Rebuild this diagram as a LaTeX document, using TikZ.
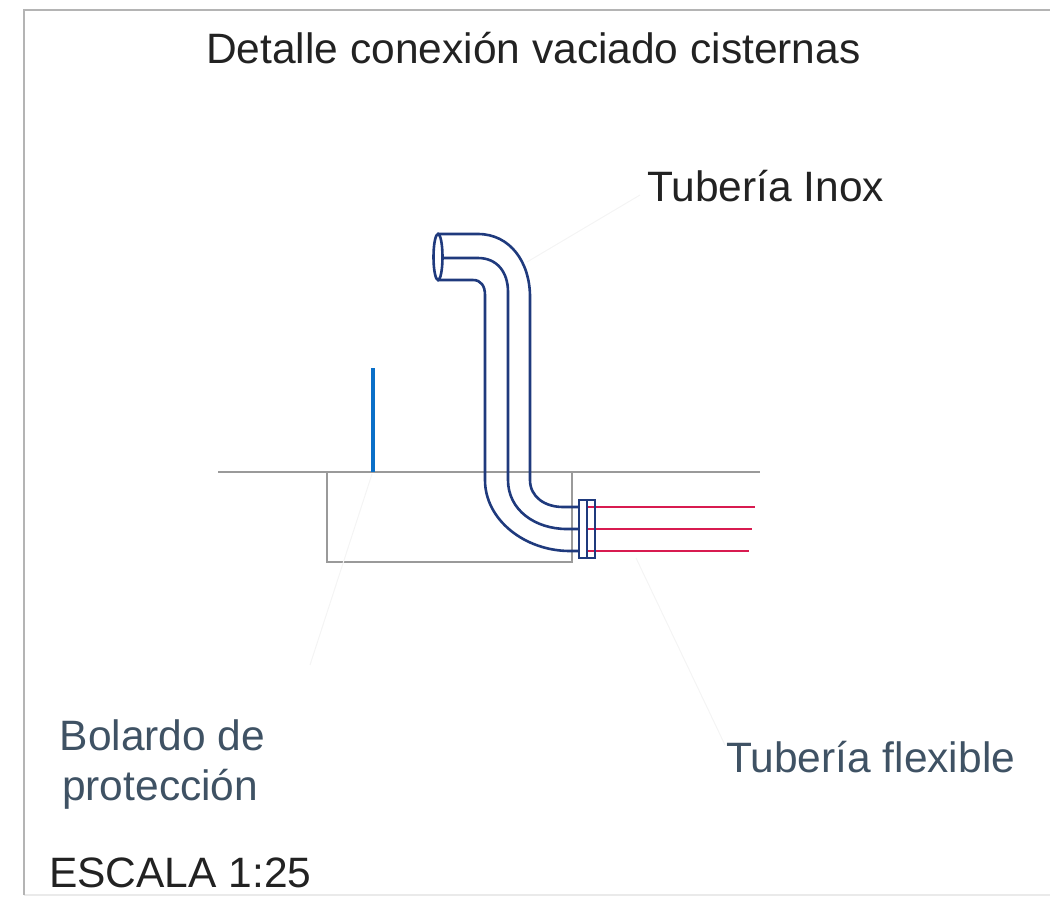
\documentclass[tikz,border=0pt]{standalone}
\usepackage{fontspec}
\setmainfont{Liberation Sans}
\definecolor{pipeblue}{HTML}{1F3A7D}
\definecolor{flexred}{HTML}{D81B50}
\definecolor{barblue}{HTML}{0A6FC8}
\definecolor{wallgray}{HTML}{9A9A9A}
\definecolor{slate}{HTML}{3F5264}
\definecolor{ink}{HTML}{222222}
\definecolor{faint}{HTML}{F4F4F4}
\definecolor{edgetop}{HTML}{B4B4B4}
\definecolor{edgelow}{HTML}{EAEAEA}
\tikzset{
  pipe/.style={draw=pipeblue,line width=2.6pt},
  flex/.style={draw=flexred,line width=2.6pt},
  wall/.style={draw=wallgray,line width=1.8pt},
  leader/.style={draw=faint,line width=1pt},
  lbl/.style={inner sep=0pt,anchor=base west,align=left,font=\fontsize{42.5}{42.5}\selectfont},
}
\begin{document}
\begin{tikzpicture}[x=1pt,y=-1pt]
\useasboundingbox (0,0) rectangle (1050,898);
% sheet border
\coordinate (bl) at (24,895); \coordinate (tl) at (24,10); \coordinate (tr) at (1050,10); \coordinate (br) at (1050,895);
\draw[draw=edgelow,line width=1.5pt] (br) -- (bl);
\draw[draw=edgetop,line width=1.6pt] (bl) -- (tl) -- (tr);
% labels
\node[lbl,text=ink] (title) at (206,63) {Detalle conexión vaciado cisternas};
\node[lbl,text=ink] (inox) at (647,201) {Tubería Inox};
\node[lbl,text=slate] (bol1) at (59.5,750) {Bolardo de};
\node[lbl,text=slate] (bol2) at (62,800) {protección};
\node[lbl,text=slate] (flexl) at (726,772) {Tubería flexible};
\node[lbl,text=ink] (esc) at (49,887) {ESCALA 1:25};
% wall and pit
\coordinate (g1) at (218,472); \coordinate (g2) at (760,472);
\coordinate (p1) at (327,472); \coordinate (p2) at (327,562); \coordinate (p3) at (572,562); \coordinate (p4) at (572,472);
\draw[wall] (g1) -- (g2);
\draw[wall] (p1) -- (p2) -- (p3) -- (p4);
% bollard
\coordinate (b1) at (373,368); \coordinate (b2) at (373,472);
\draw[draw=barblue,line width=4.2pt] (b1) -- (b2);
% faint leaders
\coordinate (l1) at (527,262); \coordinate (l2) at (640,195);
\coordinate (l3) at (372,474); \coordinate (l4) at (310,665);
\coordinate (l5) at (636,558); \coordinate (l6) at (725,745);
\draw[leader] (l1) -- (l2);
\draw[leader] (l3) -- (l4);
\draw[leader] (l5) -- (l6);
% pipe
\coordinate (e) at (438,257);
\draw[pipe] (e) ellipse [x radius=4.5,y radius=23];
\coordinate (f1) at (579,500); \coordinate (f2) at (595,558);
\draw[pipe] (438,234) -- (478,234) .. controls (510,234) and (530,262) .. (530,297)
  -- (530,480) .. controls (530,497) and (545,507) .. (563,507) -- (579,507);
\draw[pipe] (443,258) -- (478,258) .. controls (497,258) and (508,272) .. (508,292)
  -- (508,480) .. controls (508,510) and (535,529) .. (567,529) -- (579,529);
\draw[pipe] (438,280) -- (473,280) .. controls (481,280) and (485,286) .. (485,295)
  -- (485,480) .. controls (485,520) and (525,551) .. (570,551) -- (579,551);
% flexible lines
\coordinate (r1) at (755,507); \coordinate (r2) at (752,529); \coordinate (r3) at (749,551);
\draw[flex] (587,507) -- (r1);
\draw[flex] (587,529) -- (r2);
\draw[flex] (587,551) -- (r3);
% flange
\draw[pipe] (f1) rectangle (f2);
\draw[pipe] (587,500) -- (587,558);
\end{tikzpicture}
\end{document}
